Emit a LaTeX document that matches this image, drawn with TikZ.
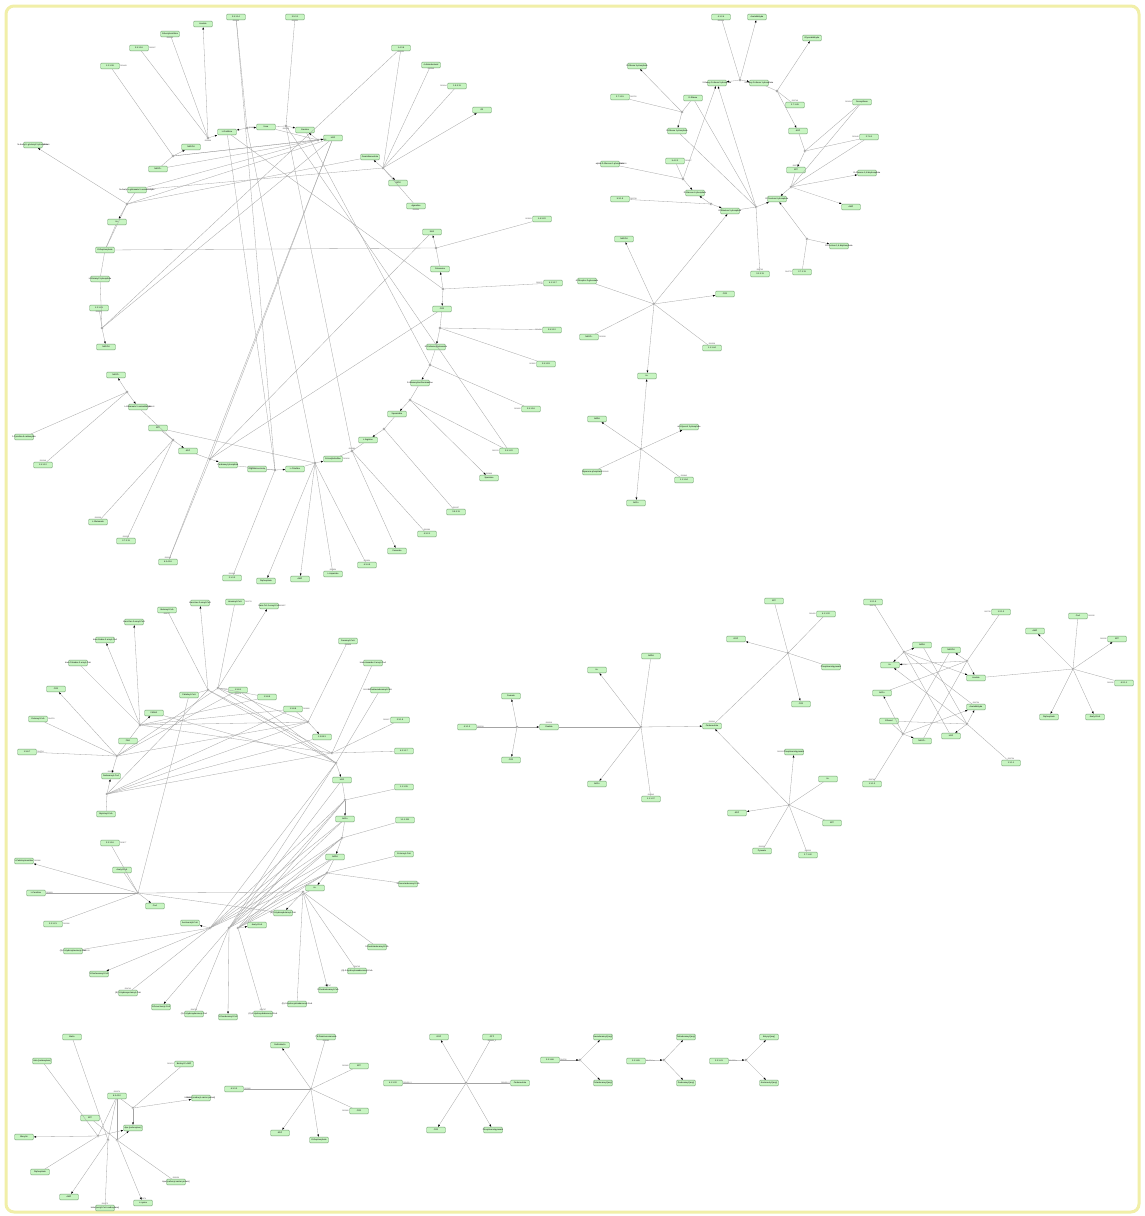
\documentclass[tikz,border=0pt]{standalone}
\usepackage{fontspec}
\setmainfont{Liberation Sans}
\usetikzlibrary{arrows.meta,positioning}
\definecolor{metfill}{HTML}{C8F5C2}
\definecolor{metdraw}{HTML}{6F9C6F}
\definecolor{edgegray}{HTML}{A4A4A4}
\definecolor{framey}{HTML}{F1EFA8}
\tikzset{
  met/.style={draw=metdraw,fill=metfill,line width=0.35pt,rounded corners=1pt,
    minimum width=19pt,minimum height=5.8pt,inner sep=0pt,
    font=\fontsize{2.1}{2.4}\selectfont,
    execute at begin node={\hbox to 0pt\bgroup\hss},execute at end node={\hss\egroup}},
  hub/.style={circle,draw=gray,fill=white,line width=0.3pt,minimum size=2.4pt,inner sep=0pt},
  lnk/.style={draw=edgegray,line width=0.3pt},
  arr/.style={lnk,-{Latex[length=2.4pt,width=1.8pt,color=black]}},
  rid/.style={font=\fontsize{1.8}{2}\selectfont,text=black!75,inner sep=0.4pt}
}
\begin{document}
\begin{tikzpicture}[x=1pt,y=-1pt]
\useasboundingbox (0,0) rectangle (1144,1216);
\fill[white] (0,0) rectangle (1144,1216);
\draw[framey,line width=3pt,rounded corners=8pt] (6,6) rectangle (1139,1212);
% metabolites and enzymes
\foreach \nm/\px/\py/\txt in {a1/236/17/{3.5.1.14},a2/295/17/{3.5.3.1},a3/203/24/{Acetate},
  a4/170/34/{N-Acetylornithine},a5/139/48/{3.5.1.16},a6/110/66/{1.2.1.38},a7/227/132/{L-Ornithine},
  a8/266/127/{Urea},a9/305/130/{Creatine},a10/333/138/{H2O},a11/370/157/{Guanidinoacetate},
  a12/191/147/{NADPH},a13/158/169/{NADP+},a14/137/190/{N-Acetyl-L-glutamate 5-semialdehyde},
  a15/33/145/{N-Acetyl-L-glutamyl 5-phosphate},a16/117/222/{H+},a17/105/250/{Orthophosphate},
  a18/100/279/{L-Glutamyl 5-phosphate},a19/99/308/{1.2.1.41},a20/106/347/{NADPH},a21/116/375/{NADP+},
  a22/138/407/{L-Glutamate 5-semialdehyde},a23/24/437/{1-Pyrroline-5-carboxylate},a24/43/465/{1.5.1.12},
  a25/158/428/{ATP},a26/188/451/{ADP},a27/228/465/{Carbamoyl phosphate},a28/257/469/{Argininosuccinate},
  a29/295/469/{L-Citrulline},a30/333/459/{N-Acetylcitrulline},a31/368/440/{L-Arginine},
  a32/98/522/{L-Glutamate},a33/126/541/{2.7.2.11},a34/168/562/{6.3.4.16},a35/232/578/{2.1.3.3},
  a36/266/581/{Diphosphate},a37/300/579/{AMP},a38/333/574/{L-Aspartate},a39/367/565/{6.3.4.5},
  a40/397/551/{Fumarate},a41/427/534/{4.3.2.1},a42/456/512/{3.5.3.11},a43/397/414/{Spermidine},
  a44/420/383/{S-Adenosylmethioninamine},a45/436/347/{N-Carbamoylputrescine},a46/442/309/{CO2},
  a47/440/269/{Putrescine},a48/432/232/{NH3},a49/416/206/{Agmatine},a50/398/183/{H2O2},
  a51/401/48/{1.4.3.6},a52/431/65/{4-Aminobutanal},a53/457/86/{1.5.3.11},a54/482/110/{O2},
  a55/542/219/{1.4.3.22},a56/553/283/{4.1.1.17},a57/552/330/{3.5.3.12},a58/546/364/{3.5.1.53},
  a59/531/409/{2.5.1.16},a60/509/451/{2.5.1.22},a61/489/478/{Spermine},
  b1/721/17/{4.1.2.4},b2/757/17/{Acetaldehyde},b3/812/38/{Glyceraldehyde},b4/637/66/{D-Ribose 5-phosphate},
  b5/717/83/{2-Deoxy-D-ribose 5-phosphate},b6/759/83/{2-Deoxy-D-ribose 1-phosphate},b7/620/97/{2.7.1.15},
  b8/693/98/{D-Ribose},b9/795/105/{2.7.1.45},b10/862/102/{Deoxyribose},b11/798/131/{ADP},
  b12/869/137/{2.7.6.1},b13/677/131/{D-Ribose 1-phosphate},b14/610/164/{alpha-D-Glucose 1-phosphate},
  b15/675/161/{5.4.2.2},b16/796/170/{ATP},b17/867/173/{{D-Glucose 1,6-bisphosphate}},
  b18/695/193/{D-Glucose 6-phosphate},b19/620/199/{5.3.1.9},b20/777/199/{D-Fructose 6-phosphate},
  b21/730/211/{D-Ribulose 5-phosphate},b22/851/207/{AMP},b23/839/246/{{D-Fructose 1,6-bisphosphate}},
  b24/760/274/{3.1.3.11},b25/802/272/{2.7.1.11},
  c1/624/239/{NADPH},c2/587/281/{6-Phospho-D-gluconate},c3/725/294/{CO2},c4/589/337/{NADP+},
  c5/712/348/{1.1.1.44},c6/647/376/{H+},
  d1/597/419/{NADH},d2/689/427/{sn-Glycerol 3-phosphate},d3/592/472/{Glycerone phosphate},
  d4/684/480/{1.1.1.94},d5/636/503/{NAD+},
  e1/167/610/{Butanoyl-CoA},e2/200/603/{trans-Hex-2-enoyl-CoA},e3/235/602/{Hexanoyl-CoA},
  e4/269/606/{trans-Oct-2-enoyl-CoA},e5/134/622/{trans-Dec-2-enoyl-CoA},e6/105/640/{trans-Dodec-2-enoyl-CoA},
  e7/78/663/{trans-Tetradec-2-enoyl-CoA},e8/56/689/{CO2},e9/38/719/{Octanoyl-CoA},e10/27/752/{1.3.8.7},
  e11/348/641/{Decanoyl-CoA},e12/373/663/{trans-Hexadec-2-enoyl-CoA},e13/189/695/{Palmitoyl-CoA},
  e14/238/690/{1.3.8.1},e15/267/697/{1.3.8.9},e16/293/709/{1.3.8.8},e17/154/713/{FADH2},
  e18/128/741/{FAD},e19/322/737/{1.3.99.3},e20/111/776/{Dodecanoyl-CoA},e21/106/814/{Myristoyl-CoA},
  e22/110/843/{2.3.1.16},e23/122/870/{Acetyl-CoA},e24/24/861/{L-Palmitoylcarnitine},e25/342/780/{H2O},
  e26/345/819/{NAD+},e27/335/857/{NADH},e28/315/888/{H+},e29/36/893/{L-Carnitine},e30/53/924/{2.3.1.21},
  e31/155/906/{CoA},e32/190/923/{Acetoacetyl-CoA},e33/257/925/{Acetyl-CoA},
  e34/283/913/{(S)-3-Hydroxybutanoyl-CoA},e35/73/951/{(S)-3-Hydroxyhexanoyl-CoA},
  e36/99/974/{3-Oxohexanoyl-CoA},e37/128/993/{(S)-3-Hydroxyoctanoyl-CoA},e38/161/1007/{3-Oxooctanoyl-CoA},
  e39/194/1014/{(S)-3-Hydroxydecanoyl-CoA},e40/228/1017/{3-Oxodecanoyl-CoA},
  e41/263/1014/{(S)-3-Hydroxydodecanoyl-CoA},e42/297/1004/{(S)-3-Hydroxytetradecanoyl-CoA},
  e43/328/990/{3-Oxododecanoyl-CoA},e44/357/971/{(S)-3-Hydroxyhexadecanoyl-CoA},
  e45/377/947/{3-Oxotetradecanoyl-CoA},e46/380/690/{3-Oxohexadecanoyl-CoA},e47/400/720/{2.3.1.9},
  e48/404/751/{4.2.1.17},e49/404/787/{1.1.1.35},e50/405/820/{1.1.1.211},e51/404/854/{Crotonoyl-CoA},
  e52/408/884/{3-Oxooctadecanoyl-CoA},
  f1/467/727/{4.1.1.2},f2/511/696/{Formate},f3/511/760/{CO2},f4/549/727/{Oxalate},f5/597/670/{H+},
  f6/651/656/{NADH},f7/597/784/{NAD+},f8/651/799/{1.1.1.37},f9/712/726/{Oxaloacetate},f10/774/601/{ATP},
  f11/736/639/{GDP},f12/801/704/{CO2},f13/826/614/{4.1.1.32},f14/831/667/{Phosphoenolpyruvate},
  f15/794/752/{Phosphoenolpyruvate},f16/737/813/{ADP},f17/762/851/{Pyruvate},f18/808/855/{2.7.1.40},
  f19/828/779/{H+},f20/832/823/{ATP},
  g1/873/602/{1.2.1.5},g2/1001/612/{1.2.1.3},g3/922/645/{NADH},g4/951/650/{NADPH},g5/890/665/{H+},
  g6/976/678/{Acetate},g7/882/693/{NAD+},g8/976/707/{Acetaldehyde},g9/889/721/{Ethanol},
  g10/922/741/{NADP+},g11/951/736/{H2O},g12/1011/763/{1.1.1.1},g13/872/784/{1.1.1.2},
  g14/1035/631/{AMP},g15/1078/616/{CoA},g16/1117/639/{ATP},g17/1124/683/{6.2.1.1},
  g18/1049/717/{Diphosphate},g19/1095/717/{Acetyl-CoA},
  h1/72/1037/{Biotin},h2/42/1061/{Holo-[carboxylase]},h3/184/1064/{Biotinyl-5'-AMP},h4/117/1096/{6.3.4.10},
  h5/90/1118/{ATP},h6/201/1098/{Biotin-[carboxyl-carrier protein]},h7/133/1128/{Apo-[carboxylase]},
  h8/24/1137/{Biocytin},h9/40/1172/{Diphosphate},h10/176/1182/{Apo-[carboxyl-carrier protein]},
  h11/69/1197/{AMP},h12/105/1208/{Holo-[acetyl-CoA carboxylase]},h13/143/1203/{L-Lysine},
  i1/326/1037/{{7,8-Diaminononanoate}},i2/280/1045/{Dethiobiotin},i3/359/1066/{ATP},i4/234/1089/{6.3.3.3},
  i5/359/1111/{CO2},i6/280/1133/{ADP},i7/319/1140/{Orthophosphate},
  j1/439/1037/{GDP},j2/492/1037/{GTP},j3/393/1083/{4.1.1.32},j4/520/1083/{Oxaloacetate},
  j5/436/1130/{CO2},j6/493/1130/{Phosphoenolpyruvate},
  k1/550/1060/{2.3.1.86},k2/603/1037/{Hexadecanoyl-[acp]},k3/603/1083/{Octadecanoyl-[acp]},
  l1/636/1061/{2.3.1.85},l2/686/1037/{Tetradecanoyl-[acp]},l3/686/1083/{Dodecanoyl-[acp]},
  m1/719/1061/{2.3.1.41},m2/769/1037/{Butyryl-[acp]},m3/769/1083/{Acetoacetyl-[acp]}}
  \node[met] (\nm) at (\px,\py) {\txt};
% reaction points
\foreach \nm/\px/\py in {ha1/208/138,ha2/247/128,ha3/286/126,ha4/173/156,ha5/127/204,ha6/102/328,
  ha7/127/392,ha8/173/440,ha9/210/459,ha10/275/470,ha11/315/463,ha12/352/451,ha13/384/429,
  ha14/410/400,ha15/430/365,ha16/440/328,ha17/443/289,ha18/436/248,ha19/383/168,ha20/318/140,
  hb1/740/80,hb2/682/112,hb3/777/91,hb4/805/151,hb5/683/179,hb6/791/187,hb7/756/207,hb9/711/204,
  hb10/807/239,hc1/654/304,hd1/641/449,
  he1/208/690,he2/218/688,he3/140/725,he4/308/722,he5/332/753,he6/117/756,he7/107/794,he8/336/763,
  he9/345/800,he10/342/838,he11/327/873,he12/138/893,he13/210/928,he14/229/928,he15/238/928,he16/303/892,
  hf1/517/727,hf2/641/727,hf3/788/653,hf4/789/805,
  hg1/904/652,hg2/967/661,hg3/967/724,hg4/903/734,hg5/1073/669,
  hh1/133/1108,hh2/98/1136,hh3/108/1140,hh4/117/1140,hi1/311/1089,hj1/466/1083,
  hk1/580/1060,hl1/664/1060,hm1/746/1060}
  \node[hub] (\nm) at (\px,\py) {};
% reaction ids
\foreach \nm/\ps/\txt in {a1/below/R00669,a2/below/R00551,a4/below/R02283,a5/right/R09107,a6/right/R03443,
  a15/right/R02649,a19/below/R03313,a22/right/R00245,a24/above/R01248,a32/above/R00239,a33/above/R00239,
  a34/above/R00149,a35/above/R01398,a38/above/R01954,a39/above/R01954,a41/above/R01086,a42/above/R01157,
  a49/below/R00566,a51/below/R01151,a52/below/R02549,a53/left/R01914,a55/left/R01153,a56/left/R00670,
  a57/left/R01416,a58/left/R01152,a59/left/R01920,a60/left/R00178,a61/above/R02869,a30/right/R01616,
  ha1/below/R00669,ha2/right/R00551,ha3/below/R01158,ha12/above/R01086,ha20/right/R01883,
  b1/below/R01066,b7/right/R02750,b9/above/R02749,b10/left/R01054,b12/left/R01049,b15/right/R01057,
  b19/right/R02739,b24/above/R00762,b25/left/R04779,b14/right/R00959,b16/above/R02749,
  c4/right/R01528,c5/above/R01528,d4/above/R00842,d3/right/R00842,
  e1/below/R03777,e3/right/R03778,e4/right/R03857,e11/below/R03858,e9/right/R04751,e10/right/R04754,
  e20/above/R01175,e22/right/R01177,e24/right/R02396,e29/right/R01923,e30/right/R02396,e35/right/R04743,
  e37/above/R04741,e39/above/R04739,e41/above/R04737,e43/above/R04747,e44/above/R04745,e46/left/R00238,
  e47/left/R00927,e16/right/R03990,e14/below/R01175,
  f1/right/R00519,f4/above/R00519,f8/above/R00342,f13/left/R00431,f17/above/R00200,f18/above/R00200,
  f9/above/R00341,f15/left/R00200,
  g1/below/R00710,g2/left/R00711,g12/above/R00754,g13/above/R00746,g17/left/R00235,g15/right/R00235,
  g16/left/R00235,g5/right/R00710,g8/above/R00754,
  h4/above/R01074,h6/left/R01074,h12/above/R01075,h13/above/R01074,h10/above/R03156,h3/left/R01074,
  i1/below/R03182,i4/right/R03182,i5/left/R03182,i3/left/R03182,
  j3/right/{R00431\_2},j4/left/{R00431\_2},j2/below/{R00431\_2},
  k1/right/R04726,l1/right/R04724,m1/right/R04355}
  \node[rid,\ps=0pt of \nm] (\nm-r) {\txt};
% plain connectors
\foreach \ea/\eb in {ha1/a4,ha1/a5,ha2/a1,ha3/a2,ha3/a8,ha4/a6,ha4/a13,ha5/a14,ha5/a17,a16/a17,a17/a18,
  ha6/a18,ha6/a19,ha7/a23,ha7/a24,ha8/a25,ha8/a32,ha8/a33,ha8/a22,ha9/a26,ha9/a34,ha10/a27,ha10/a28,
  ha10/a35,ha11/a29,ha11/a38,ha11/a39,ha12/a31,ha12/a41,ha12/a30,ha13/a42,ha13/a43,ha14/a44,ha14/a60,
  ha15/a45,ha15/a59,ha16/a46,ha16/a57,ha16/a58,ha17/a56,ha18/a47,ha18/a55,ha19/a49,ha19/a51,ha19/a52,
  ha19/a53,ha20/a8,
  a17/ha18,a10/ha9,a10/ha4,ha20/ha4,ha3/ha12,a9/ha15,a7/ha10,a1/ha10,ha2/ha11,ha19/a14,ha9/a48,ha9/a46,
  a34/a10,ha6/a51,a10/ha6,ha5/a11,ha20/a13,a25/ha11,ha3/a60,a7/ha17,a10/ha5,ha20/a14,
  hb1/b1,hb2/b7,hb2/b8,hb3/b6,hb3/b9,hb4/b11,hb4/b10,hb4/b12,hb5/b15,hb5/b14,hb6/b16,hb6/b10,hb6/b12,
  hb7/b8,hb7/b13,hb7/b24,hb7/b21,hb9/b19,hb10/b25,
  hc1/c2,hc1/c4,hc1/c5,hd1/d3,hd1/d4,
  he1/e1,he1/e13,he2/e3,he2/e14,he2/e15,he3/e7,he3/e18,he4/e11,he4/e16,he5/e12,he5/e47,he6/e9,he6/e10,
  he6/e18,he7/e21,he8/e46,he9/e25,he9/e49,he10/e26,he10/e50,he11/e27,he11/e51,he11/e52,he12/e29,
  he12/e30,he12/e22,he12/e23,he13/e35,he13/e37,he14/e39,he15/e41,he16/e42,he16/e44,he16/e45,he5/e48,
  he1/he8,he1/he5,he2/he4,he2/he8,he3/he4,he3/e15,he3/e16,he6/he4,he6/e14,he7/e16,he7/he4,he7/he5,
  he7/e19,e13/he12,he1/he7,he2/he6,e14/he8,he3/he5,e17/he8,
  he13/e26,he13/e27,he13/he9,he13/he10,he14/e25,he14/e26,he14/he11,he14/he10,he15/e28,he15/he9,
  he15/he11,he15/e27,he13/he8,he14/he8,he15/he10,he12/he16,he12/e34,he13/he11,he14/he9,
  hf1/f1,hf2/f4,hf2/f6,hf2/f8,hf3/f9,hf3/f10,hf3/f13,hf3/f14,hf4/f17,hf4/f18,hf4/f19,hf4/f20,
  hg1/g1,hg1/g8,hg1/g11,hg2/g2,hg2/g7,hg2/g10,hg3/g12,hg3/g3,hg3/g9,hg4/g13,hg4/g4,hg4/g9,g6/hg5,
  hg5/g15,hg5/g17,
  hh1/h3,hh2/h2,hh2/h9,hh2/h4,hh3/h1,hh3/h12,hh3/h4,hh4/h10,hh4/h4,hh4/h5,hh1/h4,
  hi1/i1,hi1/i3,hi1/i4,hi1/i5,hj1/j2,hj1/j3,hj1/j4,hk1/k1,hl1/l1,hm1/m1}
  \draw[lnk] (\ea) -- (\eb);
% connectors with a head
\foreach \ea/\eb in {ha1/a7,ha1/a3,ha2/a7,ha2/a8,ha3/a9,ha20/a9,ha20/a10,ha19/a11,ha19/a50,ha19/a54,
  ha18/a48,ha17/a47,ha17/a46,ha16/a45,ha15/a44,ha14/a43,ha14/a61,ha13/a31,ha12/a40,ha11/a30,ha11/a36,
  ha11/a37,ha10/a29,ha9/a27,ha8/a26,ha7/a21,ha7/a22,ha6/a20,ha5/a15,ha5/a16,ha4/a12,
  hb1/b2,hb1/b5,hb1/b6,hb2/b4,hb2/b13,hb3/b3,hb3/b11,hb4/b16,hb5/b18,hb5/b5,hb6/b17,hb6/b22,hb6/b20,
  hb7/b20,hb7/b5,hb9/b18,hb9/b21,hb10/b23,hb10/b20,
  hc1/c1,hc1/c3,hc1/c6,hc1/b21,hd1/d1,hd1/d2,hd1/d5,hd1/c6,
  he1/e2,he2/e4,he3/e5,he3/e6,he3/e17,he4/e19,he6/e8,he6/e20,he7/e20,he8/e25,he9/e26,he10/e27,
  he11/e28,he12/e31,he12/e24,he13/e32,he13/e36,he14/e38,he14/e40,he15/e33,he16/e34,he16/e43,
  hf1/f2,hf1/f3,hf1/f4,hf2/f5,hf2/f7,hf2/f9,hf3/f11,hf3/f12,hf4/f9,hf4/f15,hf4/f16,
  hg1/g3,hg1/g5,hg1/g6,hg2/g4,hg2/g5,hg2/g6,hg3/g8,hg3/g11,hg3/g5,hg4/g10,hg4/g7,hg4/g8,
  hg5/g14,hg5/g16,hg5/g18,hg5/g19,
  hh1/h6,hh1/h7,hh2/h8,hh2/h7,hh3/h11,hh4/h13,hh4/h7,
  hi1/i2,hi1/i6,hi1/i7,hj1/j1,hj1/j5,hj1/j6,
  k1/hk1,hk1/k2,hk1/k3,l1/hl1,hl1/l2,hl1/l3,m1/hm1,hm1/m2,hm1/m3}
  \draw[arr] (\ea) -- (\eb);
\end{tikzpicture}
\end{document}
